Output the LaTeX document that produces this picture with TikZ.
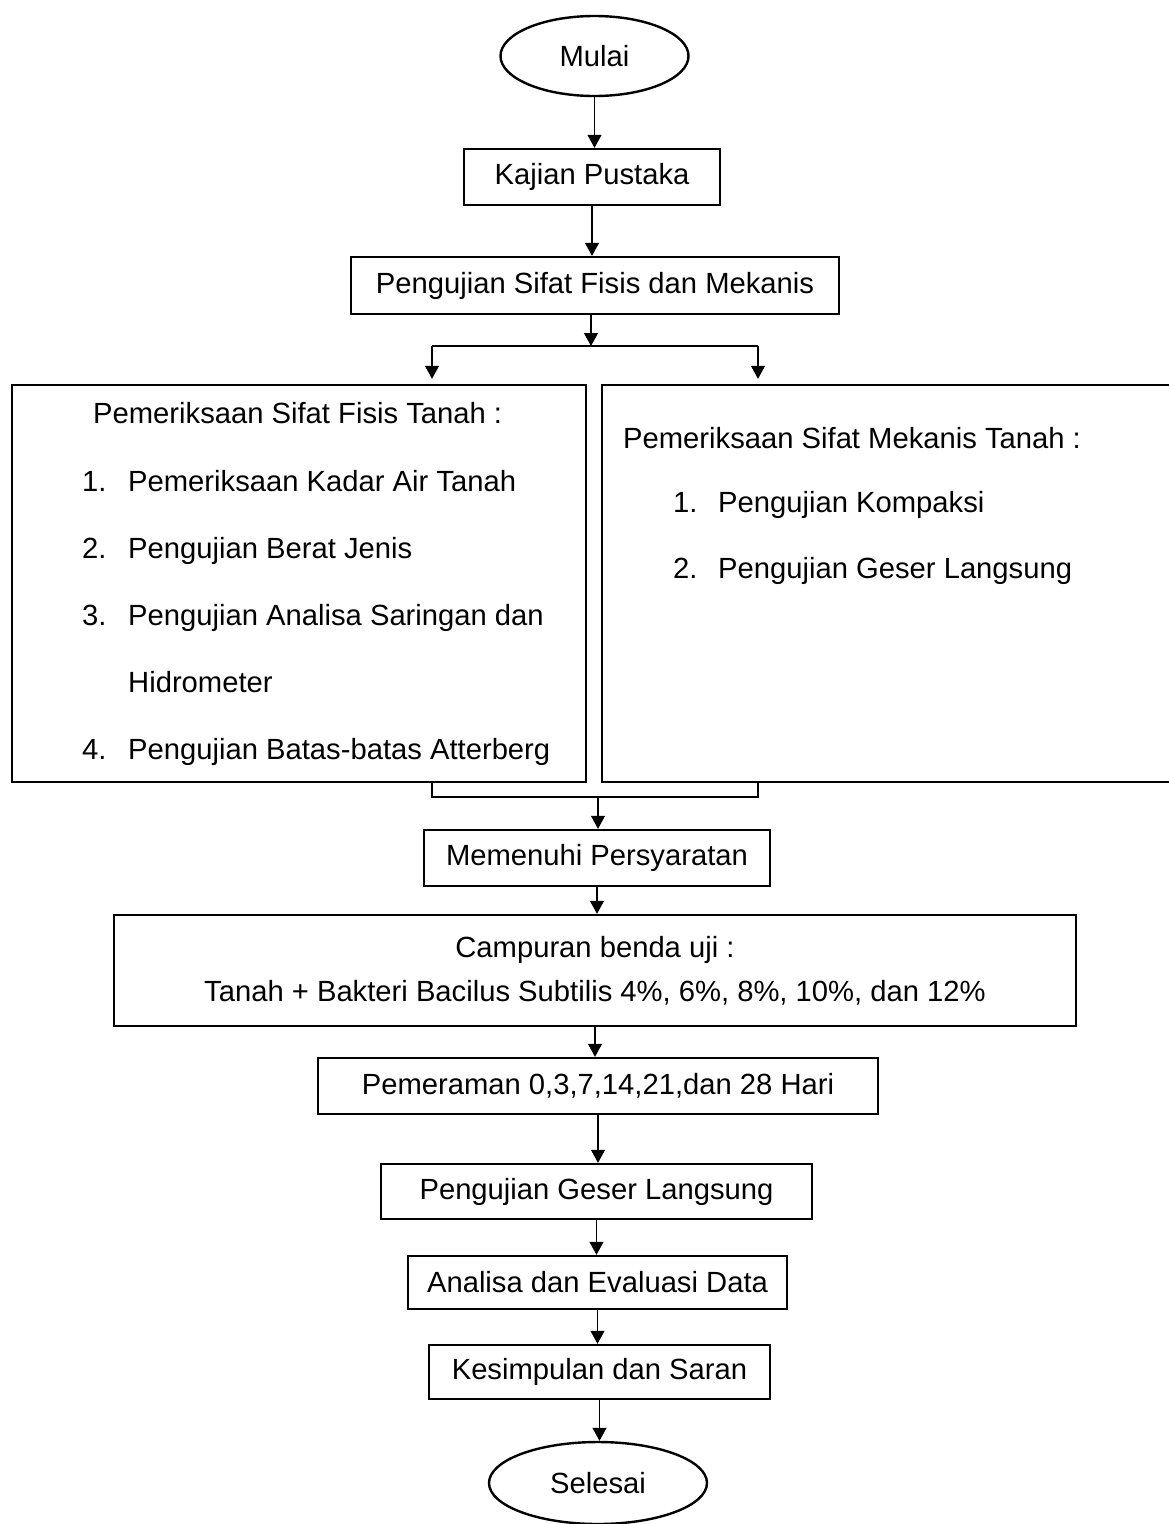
\documentclass[tikz,border=0pt]{standalone}
\usepackage{fontspec}
\setmainfont{Liberation Sans}
\usetikzlibrary{shapes.geometric, arrows.meta}

\begin{document}
\begin{tikzpicture}[x=1pt, y=-1pt,
  font=\fontsize{29.2}{35}\selectfont,
  >={Triangle[length=13pt, width=14pt]},
  kotak/.style={draw, line width=2.4pt, inner sep=0pt},
  oval/.style={draw, ellipse, line width=2.4pt, inner sep=0pt},
  garis/.style={line width=1.1pt},
  baris/.style={anchor=base west, inner sep=0pt}]
% Frame
\useasboundingbox (0,0) rectangle (1168,1524);

% Start and top boxes
\node[oval, minimum width=188pt, minimum height=80pt] (mulai) at (594.5,56) {Mulai};
\node[kotak, minimum width=256pt, minimum height=56pt] (kajian) at (592,177) {Kajian Pustaka};
\node[kotak, minimum width=488pt, minimum height=57pt] (uji) at (595,285.5) {Pengujian Sifat Fisis dan Mekanis};

% Two test boxes
\node[kotak, minimum width=574pt, minimum height=397pt] (fisis) at (299,583.5) {};
\node[kotak, minimum width=577pt, minimum height=397pt] (mekanis) at (890.5,583.5) {};

\node[baris] (fisisjudul) at (93,423) {Pemeriksaan Sifat Fisis Tanah :};
\foreach \y/\n/\t [count=\k] in {491/1./Pemeriksaan Kadar Air Tanah, 558/2./Pengujian Berat Jenis,
    625/3./Pengujian Analisa Saringan dan, 692//Hidrometer, 759/4./Pengujian Batas-batas Atterberg}
  \node[baris] (fisis\k) at (82,\y) {\makebox[46pt][l]{\n}\t};

\node[baris] (mekanisjudul) at (623,448) {Pemeriksaan Sifat Mekanis Tanah :};
\foreach \y/\n/\t [count=\k] in {512/1./Pengujian Kompaksi, 578/2./Pengujian Geser Langsung}
  \node[baris] (mekanis\k) at (673,\y) {\makebox[45pt][l]{\n}\t};

% Lower boxes
\node[kotak, minimum width=346pt, minimum height=56pt] (syarat) at (597,858) {Memenuhi Persyaratan};
\node[kotak, minimum width=962pt, minimum height=111pt, align=center,
  font=\fontsize{29.2}{44}\selectfont] (campuran) at (595,970.5)
  {Campuran benda uji :\\Tanah + Bakteri Bacilus Subtilis 4\%, 6\%, 8\%, 10\%, dan 12\%};
\node[kotak, minimum width=560pt, minimum height=56pt] (peram) at (598,1086) {Pemeraman 0,3,7,14,21,dan 28 Hari};
\node[kotak, minimum width=431pt, minimum height=55pt] (geser) at (596.5,1191.5) {Pengujian Geser Langsung};
\node[kotak, minimum width=379pt, minimum height=53pt] (analisa) at (597.5,1282.5) {Analisa dan Evaluasi Data};
\node[kotak, minimum width=341pt, minimum height=54pt] (simpul) at (599.5,1372) {Kesimpulan dan Saran};
\node[oval, minimum width=218pt, minimum height=82pt] (selesai) at (598,1483) {Selesai};

% Arrows
\foreach \a/\b in {mulai/kajian, kajian/uji, syarat/campuran, campuran/peram,
    peram/geser, geser/analisa, analisa/simpul, simpul/selesai}
  \draw[garis, ->] (\a.south) -- (\a.south |- \b.north);

% Split
\coordinate (pisah) at (591,346);
\coordinate (kiri) at (432,346);
\coordinate (kanan) at (758,346);
\draw[garis, ->] (pisah |- uji.south) -- (pisah);
\draw[garis] (kiri) -- (kanan);
\draw[garis, ->, shorten >=5pt] (kiri) -- (kiri |- fisis.north);
\draw[garis, ->, shorten >=5pt] (kanan) -- (kanan |- mekanis.north);

% Merge
\coordinate (gabung) at (598,797);
\draw[garis] (kiri |- fisis.south) -- (kiri |- gabung) -- (kanan |- gabung) -- (kanan |- mekanis.south);
\draw[garis, ->] (gabung) -- (gabung |- syarat.north);
\end{tikzpicture}
\end{document}
